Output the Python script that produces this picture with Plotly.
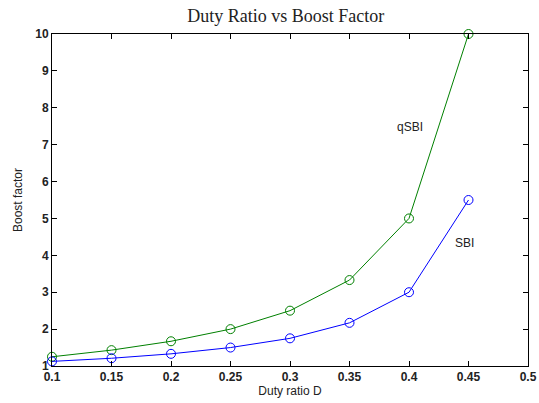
import plotly.graph_objects as go

duty = [0.1, 0.15, 0.2, 0.25, 0.3, 0.35, 0.4, 0.45]
qsbi = [1.25, 1.43, 1.67, 2.0, 2.5, 3.33, 5.0, 10.0]
sbi = [1.125, 1.21, 1.33, 1.5, 1.75, 2.17, 3.0, 5.5]
x_ticks = [0.1, 0.15, 0.2, 0.25, 0.3, 0.35, 0.4, 0.45, 0.5]
y_ticks = [1, 2, 3, 4, 5, 6, 7, 8, 9, 10]

fig = go.Figure()
fig.add_trace(go.Scatter(x=duty, y=qsbi, mode="lines+markers",
                         line=dict(color="#008000", width=1),
                         marker=dict(symbol="circle-open", size=9, color="#008000", line=dict(width=1)),
                         cliponaxis=False, showlegend=False))
fig.add_trace(go.Scatter(x=duty, y=sbi, mode="lines+markers",
                         line=dict(color="#0000ff", width=1),
                         marker=dict(symbol="circle-open", size=9, color="#0000ff", line=dict(width=1)),
                         cliponaxis=False, showlegend=False))

fig.add_annotation(x=0.401, y=7.48, text="qSBI", showarrow=False,
                   font=dict(family="Arial, Liberation Sans", size=12, color="#222"))
fig.add_annotation(x=0.447, y=4.34, text="SBI", showarrow=False,
                   font=dict(family="Arial, Liberation Sans", size=12, color="#222"))

axis_common = dict(showgrid=False, zeroline=False, showline=True, linecolor="black",
                   linewidth=1, mirror="allticks", ticks="inside", ticklen=5,
                   tickcolor="black", automargin=False,
                   tickfont=dict(family="Arial, Liberation Sans", size=12, color="#222", weight="bold"))

fig.update_layout(
    width=539, height=403,
    paper_bgcolor="white", plot_bgcolor="white",
    margin=dict(l=52, r=11, t=34, b=37),
    title=dict(text="Duty Ratio vs Boost Factor", x=0.53, xanchor="center", y=0.962, yanchor="middle",
               font=dict(family="Liberation Serif, Times New Roman", size=18, color="#222")),
    xaxis=dict(range=[0.1, 0.5], tickvals=x_ticks, ticktext=[f"{v:g}" for v in x_ticks],
               title=dict(text="Duty ratio D", standoff=2,
                          font=dict(family="Arial, Liberation Sans", size=12, color="#222")),
               **axis_common),
    yaxis=dict(range=[1, 10], tickvals=y_ticks,
               title=dict(text="Boost factor", standoff=10,
                          font=dict(family="Arial, Liberation Sans", size=12, color="#222")),
               **axis_common),
)

fig.write_html("out.html")
